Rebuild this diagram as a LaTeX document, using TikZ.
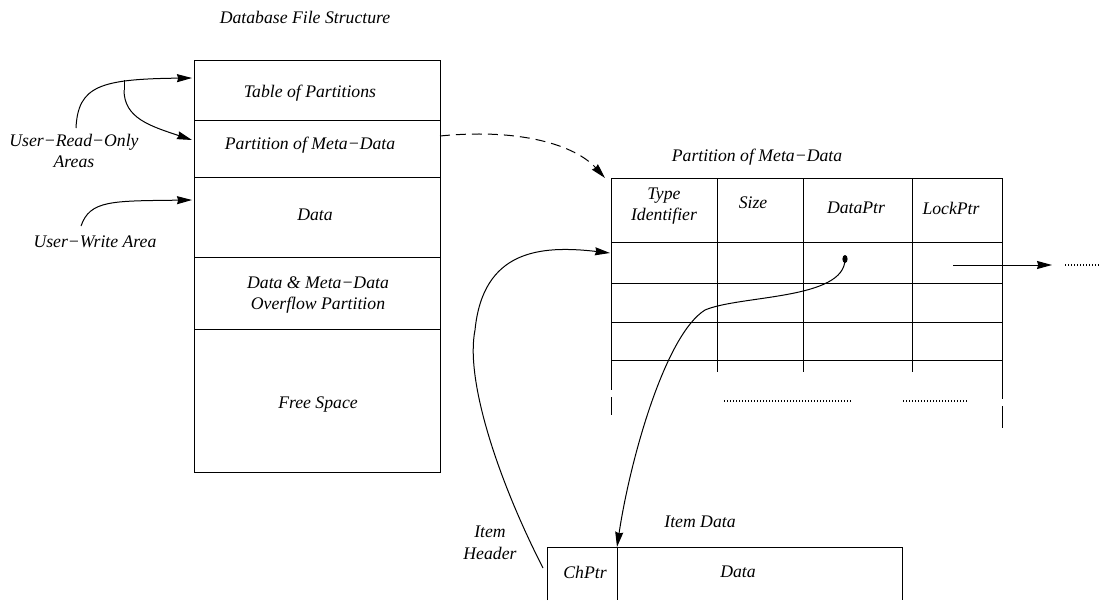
\documentclass[tikz,border=0pt]{standalone}
\usepackage{fontspec}
\setmainfont{Liberation Serif}
\usetikzlibrary{arrows.meta}

\begin{document}
\begin{tikzpicture}[x=0.5pt,y=-0.5pt,
    every node/.style={font=\fontsize{8.85}{10.8}\selectfont\itshape,inner sep=0pt,align=center},
    fig/.style={line width=0.5pt},
    ptr/.style={fig,-{Stealth[length=7.5pt,width=4pt,inset=0.6pt]}},
    dots/.style={line width=0.55pt,dash pattern=on 0.55pt off 0.95pt}]

    \useasboundingbox (0,0) rectangle (1102,600);

    % Coordinates of the file structure
    \coordinate (A) at (194,60);
    \coordinate (B) at (440,472);
    \coordinate (C) at (440,136);

    % The file structure
    \draw[fig] (A) rectangle (B);
    \foreach \y in {120,177,257,329}
        \draw[fig] (194,\y) -- (440,\y);
    \node (title) at (305,17) {Database File Structure};
    \node (tabpart) at (310,93) {Table of Partitions};
    \node (metapart) at (310,145) {Partition of Meta−Data};
    \node (datapart) at (315,215) {Data};
    \node (overflow) at (318,295) {Data \& Meta−Data\\Overflow Partition};
    \node (free) at (318,405) {Free Space};

    % The user areas
    \node (readonly) at (74,151) {User−Read−Only\\Areas};
    \node (writearea) at (95,242) {User−Write Area};
    \coordinate (R1) at (76,128);
    \coordinate (R2) at (124,80);
    \coordinate (W1) at (81,226);
    \coordinate (T1) at (192,78);
    \coordinate (T2) at (192,140);
    \coordinate (T3) at (192,200);
    \draw[ptr] (R1) .. controls (78,86) and (100,79) .. (T1);
    \draw[fig] (R2) -- (124,90);
    \draw[ptr] (124,90) .. controls (124,118) and (150,126) .. (T2);
    \draw[ptr] (W1) .. controls (90,200) and (112,201) .. (T3);

    % Coordinates of the meta-data table
    \coordinate (D) at (611,178);
    \coordinate (E) at (1002,178);

    % The meta-data table
    \node (metatitle) at (757,157) {Partition of Meta−Data};
    \draw[ptr,dash pattern=on 5pt off 3pt] (C) .. controls (520,128) and (575,145) .. (605,178);
    \foreach \y in {178,242,283,322,360}
        \draw[fig] (611,\y) -- (1002,\y);
    \foreach \x in {717,803,912}
        \draw[fig] (\x,178) -- (\x,372);
    \draw[fig] (D) -- (611,390);
    \draw[fig] (611,397) -- (611,415);
    \draw[fig] (E) -- (1002,399);
    \draw[fig] (1002,406) -- (1002,428);
    \draw[dots] (724,401) -- (852,401);
    \draw[dots] (903,401) -- (968,401);
    \node (typeid) at (664,206) {Type\\Identifier};
    \node (size) at (753,203) {Size};
    \node (dataptr) at (856,208) {DataPtr};
    \node (lockptr) at (951,208) {LockPtr};

    % The lock pointer
    \coordinate (L1) at (953,265);
    \coordinate (L2) at (1052,265);
    \draw[ptr] (L1) -- (L2);
    \draw[dots] (1065,265) -- (1100,265);

    % The item data
    \coordinate (F) at (547,547);
    \coordinate (G) at (617,547);
    \coordinate (H) at (902,547);
    \draw[fig] (547,600) -- (F) -- (H) -- (902,600);
    \draw[fig] (G) -- (617,600);
    \node (itemdata) at (700,522) {Item Data};
    \node (itemheader) at (490,543) {Item\\Header};
    \node (chptr) at (585,572) {ChPtr};
    \node (data) at (738,572) {Data};

    % The data pointer
    \coordinate (P) at (845,259);
    \fill (P) ellipse [x radius=1.3pt,y radius=2pt];
    \draw[ptr] (P) .. controls (845,300) and (740,295) .. (705,310)
        .. controls (665,335) and (630,460) .. (G);

    % The item header
    \coordinate (S) at (543,568);
    \coordinate (T4) at (610,253);
    \draw[ptr] (S) .. controls (498,480) and (465,380) .. (475,330)
        .. controls (483,250) and (540,245) .. (T4);
\end{tikzpicture}
\end{document}
